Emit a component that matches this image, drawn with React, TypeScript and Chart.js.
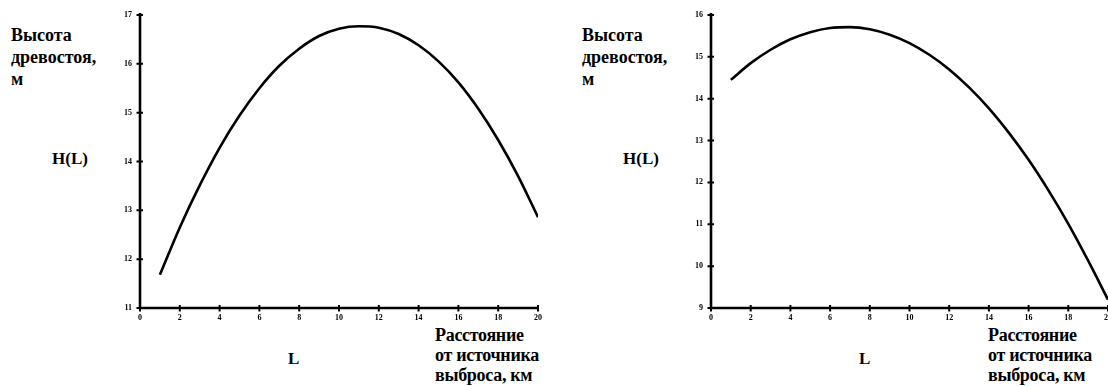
import React, { useEffect, useRef } from "react";
import { Chart, registerables } from "chart.js";

Chart.register(...registerables);

// Left panel
const leftL = [1, 2, 3, 4, 5, 6, 7, 8, 9, 10, 11, 12, 13, 14, 15, 16, 17, 18, 19, 20];
const leftH = [11.68, 12.65, 13.51, 14.28, 14.94, 15.5, 15.96, 16.31, 16.57, 16.72, 16.77, 16.74, 16.61, 16.38, 16.05, 15.62, 15.08, 14.44, 13.7, 12.86];
const leftYTicks = [11, 12, 13, 14, 15, 16, 17];

// Right panel
const rightL = [1, 2, 3, 4, 5, 6, 7, 8, 9, 10, 11, 12, 13, 14, 15, 16, 17, 18, 19, 20];
const rightH = [14.45, 14.85, 15.17, 15.42, 15.59, 15.69, 15.71, 15.66, 15.53, 15.33, 15.05, 14.7, 14.27, 13.77, 13.19, 12.54, 11.81, 11.01, 10.13, 9.2];
const rightYTicks = [9, 10, 11, 12, 13, 14, 15, 16];

const xTicks = [0, 2, 4, 6, 8, 10, 12, 14, 16, 18, 20];

const yLabel = ["Высота", "древостоя,", "м"];
const xLabel = ["Расстояние", "от источника", "выброса, км"];
const funcLabel = "H(L)";
const argLabel = "L";

const FONT = "'Liberation Serif', 'DejaVu Serif', serif";

const axesPlugin = {
  id: "axesDraw",
  afterDraw(chart: any) {
    const { ctx, chartArea, scales } = chart;
    const xs = scales.x;
    const ys = scales.y;
    ctx.save();
    ctx.strokeStyle = "#000";
    ctx.lineCap = "butt";
    ctx.lineWidth = 2.6;
    ctx.beginPath();
    ctx.moveTo(chartArea.left, chartArea.top - 2);
    ctx.lineTo(chartArea.left, chartArea.bottom);
    ctx.lineTo(chartArea.right, chartArea.bottom);
    ctx.stroke();
    ctx.lineWidth = 2;
    ctx.beginPath();
    for (const t of ys.ticks) {
      const y = ys.getPixelForValue(t.value);
      ctx.moveTo(chartArea.left - 3.5, y);
      ctx.lineTo(chartArea.left + 3, y);
    }
    for (const t of xs.ticks) {
      const x = xs.getPixelForValue(t.value);
      ctx.moveTo(x, chartArea.bottom - 3);
      ctx.lineTo(x, chartArea.bottom + 3.5);
    }
    ctx.stroke();
    ctx.restore();
  },
};

function makeConfig(xs: number[], ys: number[], yTicks: number[]) {
  const yMin = yTicks[0];
  const yMax = yTicks[yTicks.length - 1];
  return {
    type: "line" as const,
    data: {
      datasets: [
        {
          data: xs.map((x, i) => ({ x, y: ys[i] })),
          borderColor: "#000",
          borderWidth: 2.6,
          pointRadius: 0,
          cubicInterpolationMode: "monotone",
          fill: false,
        },
      ],
    },
    plugins: [axesPlugin],
    options: {
      animation: false,
      responsive: false,
      maintainAspectRatio: false,
      layout: { padding: { top: 10, right: 12, left: 0, bottom: 0 } },
      plugins: { legend: { display: false }, tooltip: { enabled: false }, title: { display: false } },
      scales: {
        x: {
          type: "linear",
          min: 0,
          max: 20,
          afterBuildTicks: (s: any) => {
            s.ticks = xTicks.map((v) => ({ value: v }));
          },
          afterFit: (s: any) => {
            s.height = 17;
          },
          border: { display: false },
          grid: { drawOnChartArea: false, color: "rgba(0,0,0,0)", tickLength: 4 },
          ticks: { color: "#000", font: { family: FONT, size: 8, weight: "bold" }, padding: 1, maxRotation: 0, autoSkip: false },
        },
        y: {
          type: "linear",
          min: yMin,
          max: yMax,
          afterBuildTicks: (s: any) => {
            s.ticks = yTicks.map((v) => ({ value: v }));
          },
          afterFit: (s: any) => {
            s.width = 40;
          },
          border: { display: false },
          grid: { drawOnChartArea: false, color: "rgba(0,0,0,0)", tickLength: 4 },
          ticks: { color: "#000", font: { family: FONT, size: 8, weight: "bold" }, padding: 4, autoSkip: false },
        },
      },
    },
  };
}

function Panel(props: { left: number; width: number; xs: number[]; ys: number[]; yTicks: number[] }) {
  const ref = useRef<HTMLCanvasElement | null>(null);
  useEffect(() => {
    if (!ref.current) return;
    const chart = new Chart(ref.current, makeConfig(props.xs, props.ys, props.yTicks) as any);
    return () => chart.destroy();
  }, []);
  return (
    <canvas
      ref={ref}
      width={props.width}
      height={320}
      style={{ position: "absolute", left: props.left, top: 5, width: props.width, height: 320 }}
    />
  );
}

const textBase: React.CSSProperties = {
  position: "absolute",
  fontFamily: FONT,
  fontWeight: "bold",
  color: "#000",
  whiteSpace: "nowrap",
};

function Labels(props: { dx: number; xLabelLeft: number }) {
  const dx = props.dx;
  return (
    <>
      <div style={{ ...textBase, left: 11 + dx, top: 24, fontSize: 18, lineHeight: "22px" }}>
        {yLabel.map((t, i) => (
          <div key={i}>{t}</div>
        ))}
      </div>
      <div style={{ ...textBase, left: 52 + dx, top: 150, fontSize: 17, lineHeight: "18px" }}>{funcLabel}</div>
      <div style={{ ...textBase, left: 288 + dx, top: 350, fontSize: 17, lineHeight: "18px" }}>{argLabel}</div>
      <div style={{ ...textBase, left: props.xLabelLeft, top: 325, fontSize: 18, lineHeight: "20px", letterSpacing: "-0.3px" }}>
        {xLabel.map((t, i) => (
          <div key={i}>{t}</div>
        ))}
      </div>
    </>
  );
}

export default function App() {
  return (
    <div
      style={{
        position: "fixed",
        left: 0,
        top: 0,
        width: 1108,
        height: 386,
        overflow: "hidden",
        background: "#fff",
      }}
    >
      <Panel left={100} width={450} xs={leftL} ys={leftH} yTicks={leftYTicks} />
      <Panel left={671} width={449} xs={rightL} ys={rightH} yTicks={rightYTicks} />
      <Labels dx={0} xLabelLeft={435} />
      <Labels dx={571} xLabelLeft={988} />
    </div>
  );
}
